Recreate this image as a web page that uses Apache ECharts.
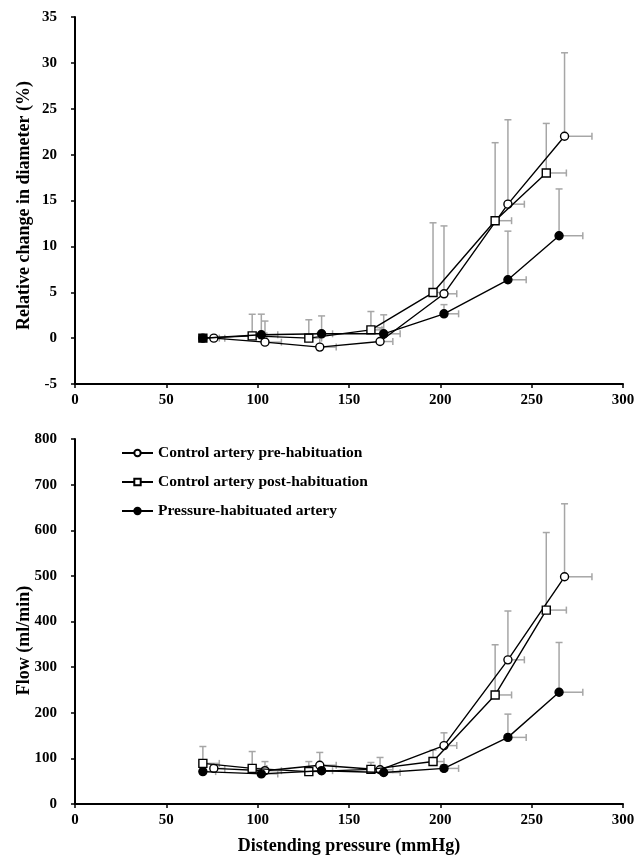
<!DOCTYPE html>
<html>
<head>
<meta charset="utf-8">
<script src="https://cdn.jsdelivr.net/npm/echarts@6/dist/echarts.min.js"></script>
<style>html,body{margin:0;padding:0;background:#fff}#c{width:644px;height:855px}</style>
</head>
<body>
<div id="c"></div>
<script>
// Distending pressure (mmHg) for each group, with horizontal SD
const pressurePre  = [76, 104, 134, 167, 202, 237, 268];
const pressurePost = [70, 97, 128, 162, 196, 230, 258];
const pressureHab  = [70, 102, 135, 169, 202, 237, 265];
const pressureErrPre  = [6, 9, 9, 7, 7, 9, 15];
const pressureErrPost = [9, 8, 7, 6, 6, 9, 11];
const pressureErrHab  = [7, 9, 6, 9, 8, 10, 13];

// Relative change in diameter (%)
const diamPre     = [0, -0.44, -0.98, -0.37, 4.83, 14.6, 22.0];
const diamPreErr  = [0, 2.3, 1.5, 1.5, 7.4, 9.2, 9.1];
const diamPost    = [0, 0.25, 0, 0.9, 4.97, 12.8, 18.0];
const diamPostErr = [0, 2.35, 2.0, 2.0, 7.6, 8.5, 5.4];
const diamHab     = [0, 0.36, 0.47, 0.47, 2.65, 6.36, 11.16];
const diamHabErr  = [0, 2.25, 1.95, 2.07, 1.0, 5.3, 5.1];

// Flow (ml/min)
const flowPre     = [78, 73, 85, 75, 128, 316, 498];
const flowPreErr  = [10, 20, 28, 27, 28, 107, 160];
const flowPost    = [89, 78, 71, 76, 93, 239, 425];
const flowPostErr = [37, 37, 22, 15, 25, 110, 170];
const flowHab     = [71, 66, 73, 69, 78, 146, 245];
const flowHabErr  = [8, 8, 8, 8, 8, 51, 109];

const seriesNames = ['Control artery pre-habituation', 'Control artery post-habituation', 'Pressure-habituated artery'];

const FONT = "'Liberation Serif', 'Times New Roman', serif";

function pts(xs, ys) { return xs.map((x, i) => [x, ys[i]]); }
function errPts(xs, ys, xe, ye) { return xs.map((x, i) => [x, ys[i], xe[i], ye[i]]); }

function renderErr(params, api) {
  const x = api.value(0), y = api.value(1), xe = api.value(2), ye = api.value(3);
  const p = api.coord([x, y]);
  const children = [];
  const st = { stroke: '#a6a6a6', lineWidth: 1.5 };
  const c = 3.5;
  if (ye > 0) {
    const t = api.coord([x, y + ye]);
    children.push({ type: 'line', shape: { x1: p[0], y1: p[1], x2: t[0], y2: t[1] }, style: st });
    children.push({ type: 'line', shape: { x1: t[0] - c, y1: t[1], x2: t[0] + c, y2: t[1] }, style: st });
  }
  if (xe > 0) {
    const r = api.coord([x + xe, y]);
    children.push({ type: 'line', shape: { x1: p[0], y1: p[1], x2: r[0], y2: r[1] }, style: st });
    children.push({ type: 'line', shape: { x1: r[0], y1: r[1] - c, x2: r[0], y2: r[1] + c }, style: st });
  }
  return { type: 'group', children };
}

function errSeries(idx, data) {
  return { type: 'custom', xAxisIndex: idx, yAxisIndex: idx, renderItem: renderErr,
    data, encode: { x: 0, y: 1 }, z: 1, silent: true, clip: false };
}

const styles = [
  { symbol: 'circle', color: '#fff' },
  { symbol: 'rect', color: '#fff' },
  { symbol: 'circle', color: '#000' }
];

function lineSeries(idx, k, data) {
  return { type: 'line', name: seriesNames[k], xAxisIndex: idx, yAxisIndex: idx, data,
    symbol: styles[k].symbol, symbolSize: 8, showAllSymbol: true,
    lineStyle: { color: '#000', width: 1.4 },
    itemStyle: { color: styles[k].color, borderColor: '#000', borderWidth: 1.4 },
    z: 3 + k, animation: false };
}

// top chart: first post point drawn filled (overlapping baseline marker)
const topPost = pts(pressurePost, diamPost);
topPost[0] = { value: topPost[0], itemStyle: { color: '#000' } };

function xAxisDef(idx, withName) {
  return {
    type: 'value', gridIndex: idx, min: 0, max: 300, interval: 50,
    axisLine: { show: true, onZero: false, lineStyle: { color: '#000', width: 2 } },
    axisTick: { show: true, length: 4, lineStyle: { color: '#000', width: 1.5 } },
    axisLabel: { margin: 9, color: '#000', fontFamily: FONT, fontWeight: 'bold', fontSize: 15 },
    splitLine: { show: false },
    name: withName ? 'Distending pressure (mmHg)' : '',
    nameLocation: 'middle', nameGap: 33, nameMoveOverlap: false,
    nameTextStyle: { color: '#000', fontFamily: FONT, fontWeight: 'bold', fontSize: 18 }
  };
}

function yAxisDef(idx, min, max, interval, name, pad) {
  return {
    type: 'value', gridIndex: idx, min, max, interval,
    axisLine: { show: true, onZero: false, lineStyle: { color: '#000', width: 2 } },
    axisTick: { show: true, length: 4, lineStyle: { color: '#000', width: 1.5 } },
    axisLabel: { margin: 18, color: '#000', fontFamily: FONT, fontWeight: 'bold', fontSize: 15 },
    splitLine: { show: false },
    name, nameLocation: 'middle', nameGap: 42, nameMoveOverlap: false,
    nameTextStyle: { color: '#000', fontFamily: FONT, fontWeight: 'bold', fontSize: 18, padding: pad }
  };
}

const chart = echarts.init(document.getElementById('c'), null, { renderer: 'canvas' });
chart.setOption({
  backgroundColor: '#fff',
  animation: false,
  grid: [
    { left: 75, right: 21, top: 17, height: 367, outerBoundsMode: 'none', containLabel: false },
    { left: 75, right: 21, top: 439, height: 365, outerBoundsMode: 'none', containLabel: false }
  ],
  legend: {
    data: seriesNames, orient: 'vertical', left: 116, top: 440,
    itemWidth: 31, itemHeight: 8, itemGap: 13,
    textStyle: { color: '#000', fontFamily: FONT, fontWeight: 'bold', fontSize: 15.5 },
    selectedMode: false
  },
  xAxis: [xAxisDef(0, false), xAxisDef(1, true)],
  yAxis: [
    yAxisDef(0, -5, 35, 5, 'Relative change in diameter (%)', [0, 10, 0, 0]),
    yAxisDef(1, 0, 800, 100, 'Flow (ml/min)', [0, 38, 0, 0])
  ],
  series: [
    errSeries(0, errPts(pressurePre, diamPre, pressureErrPre, diamPreErr)),
    errSeries(0, errPts(pressurePost, diamPost, pressureErrPost, diamPostErr)),
    errSeries(0, errPts(pressureHab, diamHab, pressureErrHab, diamHabErr)),
    lineSeries(0, 0, pts(pressurePre, diamPre)),
    lineSeries(0, 1, topPost),
    lineSeries(0, 2, pts(pressureHab, diamHab)),
    errSeries(1, errPts(pressurePre, flowPre, pressureErrPre, flowPreErr)),
    errSeries(1, errPts(pressurePost, flowPost, pressureErrPost, flowPostErr)),
    errSeries(1, errPts(pressureHab, flowHab, pressureErrHab, flowHabErr)),
    lineSeries(1, 0, pts(pressurePre, flowPre)),
    lineSeries(1, 1, pts(pressurePost, flowPost)),
    lineSeries(1, 2, pts(pressureHab, flowHab))
  ]
});
</script>
</body>
</html>
